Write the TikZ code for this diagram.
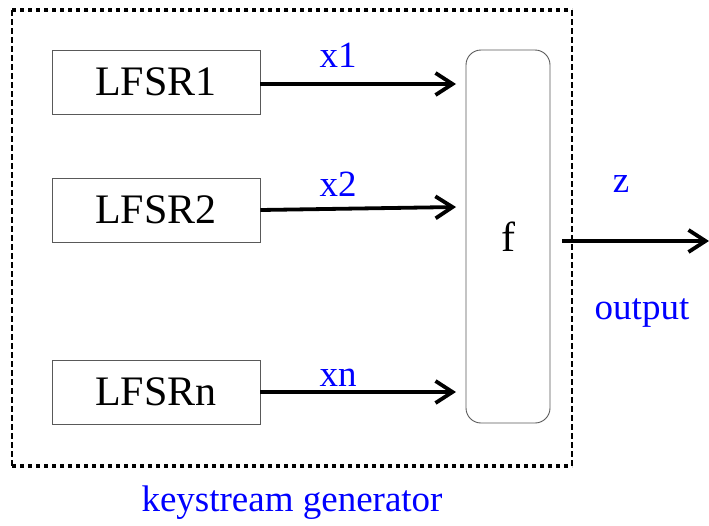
\documentclass[tikz,border=0pt]{standalone}
\usepackage{fontspec}
\setmainfont{Liberation Serif}
\usetikzlibrary{arrows.meta}
\begin{document}
\begin{tikzpicture}[x=1pt,y=-1pt,
  reg/.style={draw=black!65,line width=0.9pt,minimum width=208pt,minimum height=64pt,
    inner sep=0pt,font=\fontsize{42}{42}\selectfont},
  fbox/.style={draw=black!65,line width=0.9pt,rounded corners=15pt,minimum width=84pt,
    minimum height=373pt,inner sep=0pt,font=\fontsize{42}{42}\selectfont},
  sig/.style={line width=3.8pt,-{Straight Barb[length=17pt,width=22pt,line width=3.8pt]}},
  lbl/.style={text=blue,font=\fontsize{37}{37}\selectfont,inner sep=0pt},
  frameh/.style={line width=3.5pt,dash pattern=on 4pt off 4pt},
  framev/.style={line width=2.4pt,dash pattern=on 6pt off 3pt}]
\useasboundingbox (0,0) rectangle (709,525);
% enclosing keystream-generator frame: dotted top/bottom, dashed sides
\coordinate (tl) at (12,10);
\coordinate (tr) at (572,10);
\coordinate (bl) at (12,466);
\coordinate (br) at (572,466);
\draw[frameh] (tl) -- (tr);
\draw[frameh] (bl) -- (br);
\draw[framev] (tl) -- (bl);
\draw[framev] (tr) -- (br);
% registers
\node[reg] (r1) at (156,82) {LFSR1};
\node[reg] (r2) at (156,210) {LFSR2};
\node[reg] (rn) at (156,392) {LFSRn};
% combining function
\node[fbox] (f) at (508,236.5) {f};
\coordinate (f1) at (456,84);
\coordinate (f2) at (456,207);
\coordinate (fn) at (456,392);
\coordinate (out) at (709,241);
\coordinate (fo) at (562,241);
% signal lines
\draw[sig] (r1.east |- f1) -- (f1);
\draw[sig] (r2.east) -- (f2);
\draw[sig] (rn.east) -- (fn);
\draw[sig] (fo) -- (out);
% labels
\node[lbl] (l1) at (338,55) {x1};
\node[lbl] (l2) at (338,184) {x2};
\node[lbl] (ln) at (338,378) {xn};
\node[lbl] (lz) at (621,184) {z};
\node[lbl] (lo) at (642,313) {output};
\node[lbl] (lk) at (292,503) {keystream generator};
\end{tikzpicture}
\end{document}
